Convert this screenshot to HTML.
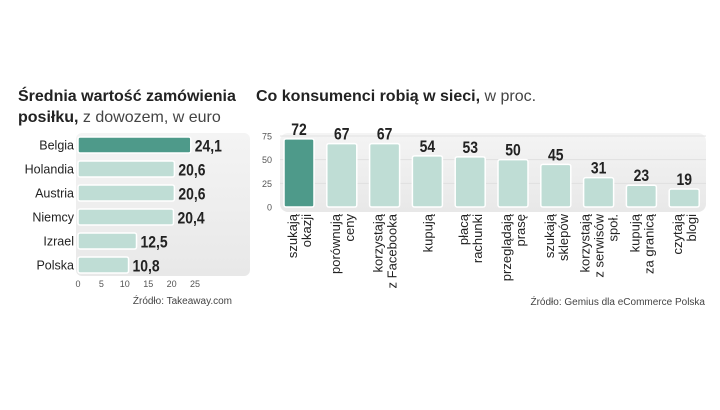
<!DOCTYPE html>
<html><head><meta charset="utf-8"><style>
body{margin:0;background:#fff;width:720px;height:405px;overflow:hidden;font-family:"Liberation Sans",sans-serif}
</style></head><body>
<svg width="720" height="405" xmlns="http://www.w3.org/2000/svg">
<defs><linearGradient id="pg" x1="0" x2="0" y1="0" y2="1"><stop offset="0" stop-color="#f4f4f4"/><stop offset="1" stop-color="#e8e8e8"/></linearGradient></defs>
<g id="left">
<text x="18" y="101" font-size="16" font-weight="bold" fill="#222">Średnia wartość zamówienia</text>
<text x="18" y="122" font-size="16" fill="#222"><tspan font-weight="bold">posiłku,</tspan><tspan fill="#444"> z dowozem, w euro</tspan></text>
<rect x="76" y="133" width="174" height="143" rx="6" fill="url(#pg)"/>
<text x="232" y="304" font-size="10" fill="#444" text-anchor="end">Źródło: Takeaway.com</text>
</g>
<g id="right">
<text x="256" y="101" font-size="16" fill="#222"><tspan font-weight="bold">Co konsumenci robią w sieci,</tspan><tspan fill="#444"> w proc.</tspan></text>
<rect x="280" y="133" width="426" height="79" rx="8" fill="url(#pg)"/>
<text x="705" y="305" font-size="10" fill="#444" text-anchor="end">Źródło: Gemius dla eCommerce Polska</text>
</g>
</svg>
<script>
const countries=["Belgia","Holandia","Austria","Niemcy","Izrael","Polska"];
const orderValues=[24.1,20.6,20.6,20.4,12.5,10.8];
const orderLabels=["24,1","20,6","20,6","20,4","12,5","10,8"];
const xTicks=[0,5,10,15,20,25];
const activities=[["szukają","okazji"],["porównują","ceny"],["korzystają","z Facebooka"],["kupują"],["płacą","rachunki"],["przeglądają","prasę"],["szukają","sklepów"],["korzystają","z serwisów","społ."],["kupują","za granicą"],["czytają","blogi"]];
const activityValues=[72,67,67,54,53,50,45,31,23,19];
const yTicks=[0,25,50,75];
const NS="http://www.w3.org/2000/svg";
function mk(parent,tag,attrs,text){const e=document.createElementNS(NS,tag);for(const k in attrs)e.setAttribute(k,attrs[k]);if(text!==undefined)e.textContent=text;parent.appendChild(e);return e;}
const L=document.getElementById('left'),R=document.getElementById('right');
const xs=v=>78+v*(117/25);
const rowY=i=>145+i*24;
xTicks.forEach(t=>{const e=mk(L,'text',{x:xs(t),y:287,'font-size':9,fill:'#555','text-anchor':'middle'},t);

});
countries.forEach((c,i)=>{const y=rowY(i);
const lab=mk(L,'text',{x:74,y:y+4.5,'font-size':12.5,fill:'#222','text-anchor':'end'},c);


const b=mk(L,'rect',{x:xs(0),y:y-8,width:xs(orderValues[i])-xs(0),height:16,rx:2,fill:i===0?'#4e9a8a':'#bfddd5',stroke:'#fff','stroke-width':1.5});


const vx=xs(orderValues[i])+4;
const v=mk(L,'text',{x:0,y:0,'font-size':17,'font-weight':'bold',fill:'#222',transform:`translate(${vx},${y+6.5}) scale(0.82,1)`},orderLabels[i]);

});
const ys=v=>207-v*(71/75);
const cx=i=>299+i*42.8;
yTicks.forEach(t=>{const e=mk(R,'text',{x:272,y:ys(t)+3.5,'font-size':9,fill:'#555','text-anchor':'end'},t);


if(t>0){const g=mk(R,'line',{x1:280,x2:706,y1:ys(t),y2:ys(t),stroke:'#ddd','stroke-width':0.8});

}});
activities.forEach((a,i)=>{const c=cx(i),v=activityValues[i];
const b=mk(R,'rect',{x:c-15,y:ys(v),width:30,height:ys(0)-ys(v),rx:2,fill:i===0?'#4e9a8a':'#bfddd5',stroke:'#fff','stroke-width':1.5});


const t=mk(R,'text',{x:0,y:0,'font-size':17,'font-weight':'bold',fill:'#222','text-anchor':'middle',transform:`translate(${c},${ys(v)-4}) scale(0.82,1)`},v);


const n=a.length,start=c+5-(n-1)*7;
a.forEach((ln,j)=>{const bx=start+j*14;
const e=mk(R,'text',{x:0,y:0,'font-size':13,fill:'#222','text-anchor':'end',transform:`translate(${bx},214) rotate(-90)`},ln);

});});
</script>
</body></html>
